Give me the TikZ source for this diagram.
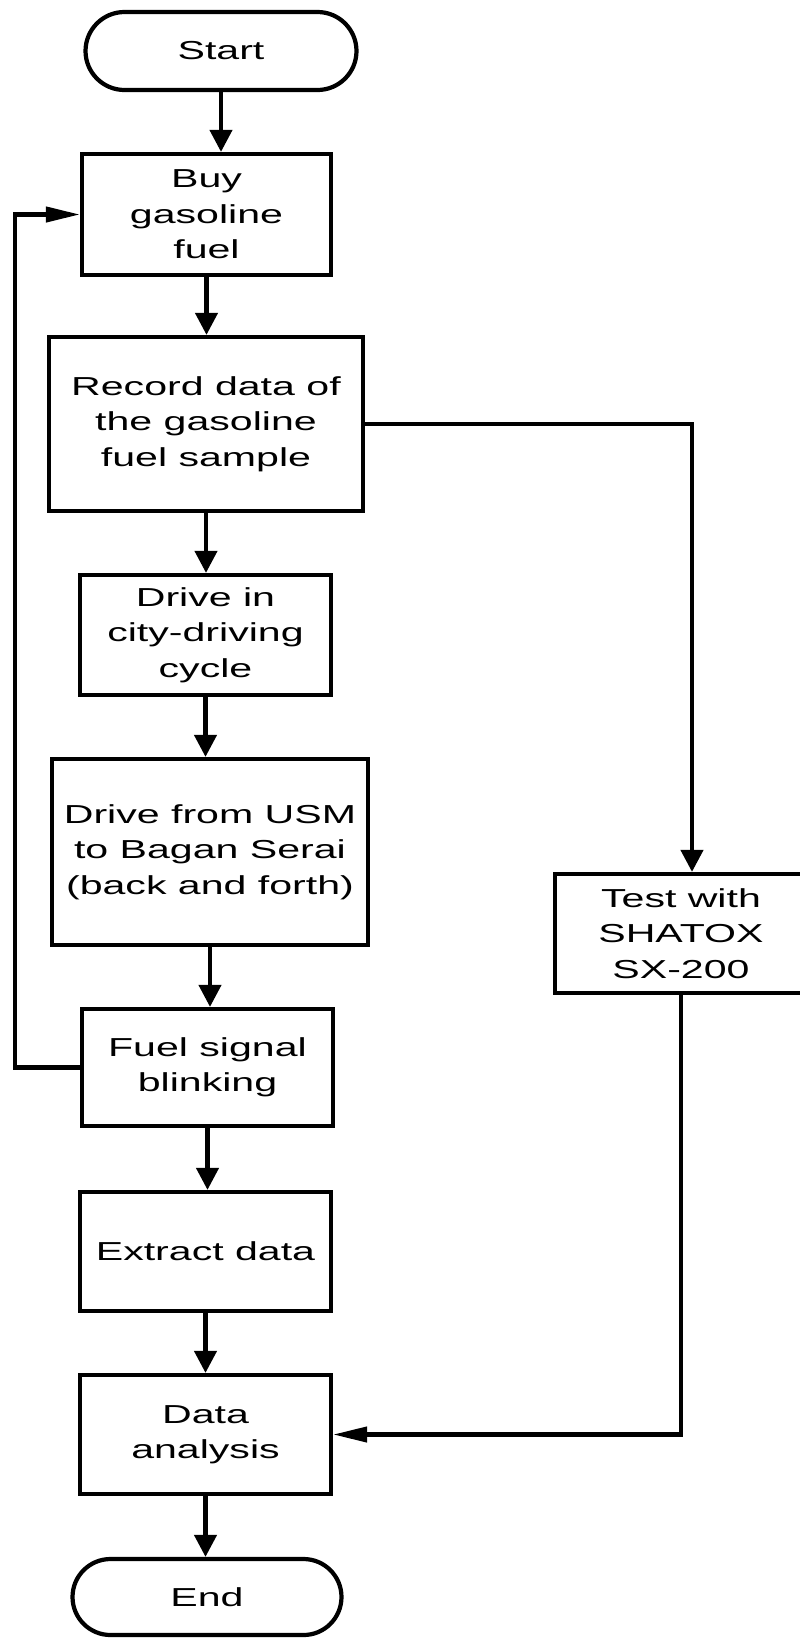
\documentclass[tikz,border=0pt]{standalone}
\usepackage{fontspec}
\setmainfont{Liberation Sans}[FakeStretch=1.58]
\usetikzlibrary{arrows.meta,positioning,shapes.misc}

\begin{document}
\begin{tikzpicture}[
  font=\fontsize{14.8}{20.2}\selectfont,
  line width=2.4pt,
  box/.style={draw, align=center, inner sep=2pt},
  term/.style={draw, rounded rectangle, align=center, inner sep=2pt},
  varr/.style={-{Triangle[length=4.4mm, width=4.4mm]}},
  harr/.style={-{Triangle[length=6.8mm, width=3mm]}}
]
\useasboundingbox (0,0) rectangle (16,-32.76);
\clip (0,0) rectangle (16,-32.76);

% ---------- Main column ----------
\node[term, minimum width=5.56cm, minimum height=1.56cm] (start) at (4.42,-1.02) {Start};
\node[box, minimum width=4.98cm, minimum height=2.42cm] (buy) at (4.13,-4.29)
  {Buy\\ gasoline\\ fuel};
\node[box, minimum width=6.28cm, minimum height=3.48cm] (rec) at (4.12,-8.48)
  {Record data of\\ the gasoline\\ fuel sample};
\node[box, minimum width=5.02cm, minimum height=2.40cm] (city) at (4.11,-12.70)
  {Drive in\\ city-driving\\ cycle};
\node[box, minimum width=6.32cm, minimum height=3.72cm] (usm) at (4.20,-17.04)
  {Drive from USM\\ to Bagan Serai\\ (back and forth)};
\node[box, minimum width=5.02cm, minimum height=2.34cm] (sig) at (4.15,-21.35)
  {Fuel signal\\ blinking};
\node[box, minimum width=5.02cm, minimum height=2.38cm] (ext) at (4.11,-25.03)
  {Extract data};
\node[box, minimum width=5.02cm, minimum height=2.38cm] (ana) at (4.11,-28.69)
  {Data\\ analysis};
\node[term, minimum width=5.52cm, minimum height=1.52cm] (end) at (4.14,-31.94) {End};

% ---------- Side branch ----------
\node[box, minimum width=5.04cm, minimum height=2.38cm] (test) at (13.62,-18.67)
  {Test with\\ SHATOX\\ SX-200};

% ---------- Main flow ----------
\draw[varr] (start.south) -- (start.south |- buy.north);
\draw[varr] (buy.south) -- (buy.south |- rec.north);
\draw[varr] (rec.south) -- (rec.south |- city.north);
\draw[varr] (city.south) -- (city.south |- usm.north);
\draw[varr] (usm.south) -- (usm.south |- sig.north);
\draw[varr] (sig.south) -- (sig.south |- ext.north);
\draw[varr] (ext.south) -- (ext.south |- ana.north);
\draw[varr] (ana.south) -- (ana.south |- end.north);

% ---------- Loop back and test branch ----------
\draw[harr] (sig.west) -- ++(-1.3,0) |- (buy.west);
\draw[varr] (rec.east) -| ([xshift=0.22cm]test.north);
\draw[harr] (test.south) |- (ana.east);
\end{tikzpicture}
\end{document}
